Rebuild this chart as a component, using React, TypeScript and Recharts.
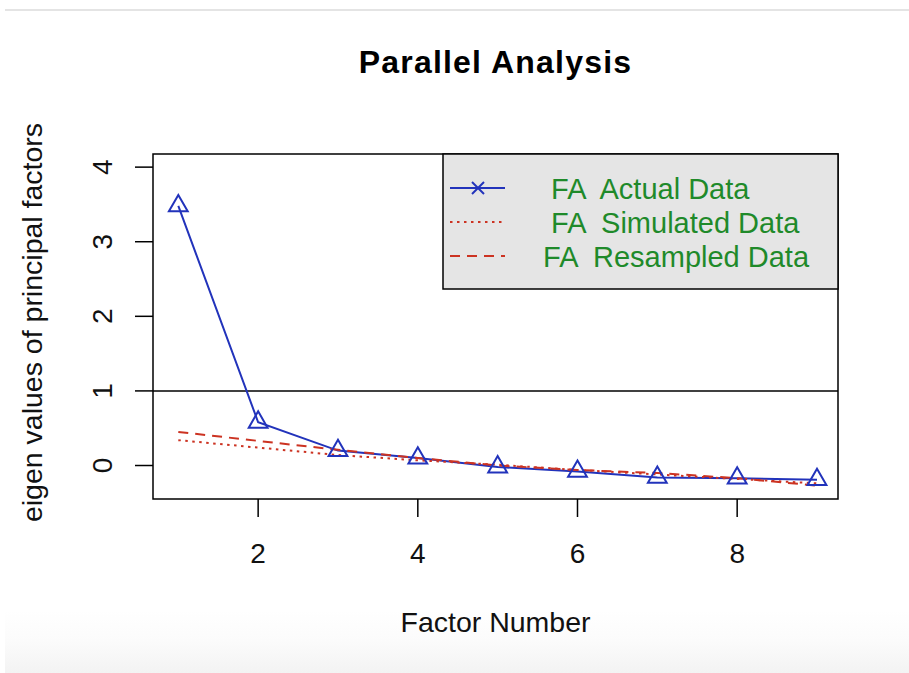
import React from 'react';
import { LineChart, Line, XAxis, YAxis, ReferenceLine, ReferenceArea, Legend } from 'recharts';

// ---- data ----
const factors = [1, 2, 3, 4, 5, 6, 7, 8, 9];
const actualData = [3.48, 0.58, 0.2, 0.1, -0.02, -0.08, -0.16, -0.17, -0.19];
const simulatedData = [0.34, 0.24, 0.14, 0.07, 0.01, -0.06, -0.12, -0.18, -0.24];
const resampledData = [0.45, 0.33, 0.21, 0.1, 0.0, -0.06, -0.1, -0.17, -0.27];
const xTicks = [2, 4, 6, 8];
const yTicks = [0, 1, 2, 3, 4];
const seriesNames = ['  FA  Actual Data', '  FA  Simulated Data', ' FA  Resampled Data'];
const chartTitle = 'Parallel Analysis';
const xTitle = 'Factor Number';
const yTitle = 'eigen values of principal factors';

const data = factors.map((f, i) => ({
  factor: f,
  actual: actualData[i],
  simulated: simulatedData[i],
  resampled: resampledData[i],
}));

const X_DOMAIN: [number, number] = [0.683, 9.263];
const Y_DOMAIN: [number, number] = [-0.449, 4.176];
const FONT = '"Liberation Sans", Arial, Helvetica, sans-serif';
const BLUE = '#2233bb';
const RED = '#cc3322';
const GREEN = '#1f8a2a';

const TriangleDot = (props: any) => {
  const { cx, cy, index } = props;
  if (cx == null || cy == null) return <g key={`tri-${index}`} />;
  const d = `M${cx},${cy - 10.9} L${cx + 9.4},${cy + 5.4} L${cx - 9.4},${cy + 5.4} Z`;
  return <path key={`tri-${index}`} d={d} fill="none" stroke={BLUE} strokeWidth={2} />;
};

const XTick = (props: any) => {
  const { x, y, payload } = props;
  return (
    <text x={x} y={y} dy={20} textAnchor="middle" fontFamily={FONT} fontSize={28} fill="#111">
      {payload.value}
    </text>
  );
};

const YTick = (props: any) => {
  const { x, y, payload } = props;
  return (
    <text
      x={x}
      y={y}
      transform={`rotate(-90 ${x} ${y})`}
      textAnchor="middle"
      fontFamily={FONT}
      fontSize={28}
      fill="#111"
    >
      {payload.value}
    </text>
  );
};

const renderLegend = (props: any) => {
  const payload = props.payload || [];
  return (
    <svg width={395} height={135} style={{ display: 'block', overflow: 'visible' }}>
      <rect x={0} y={0} width={395} height={135} fill="#e5e5e5" stroke="#000" strokeWidth={1.5} />
      {payload.map((entry: any, i: number) => {
        const y = 34 + i * 34;
        const dash = entry?.payload?.strokeDasharray;
        return (
          <g key={`leg-${i}`}>
            <line x1={7} x2={62} y1={y} y2={y} stroke={entry.color} strokeWidth={2} strokeDasharray={dash} />
            {i === 0 && (
              <g stroke={entry.color} strokeWidth={2}>
                <line x1={29} y1={y - 6} x2={41} y2={y + 6} />
                <line x1={29} y1={y + 6} x2={41} y2={y - 6} />
              </g>
            )}
            <text
              x={92}
              y={y + 10.5}
              fontFamily={FONT}
              fontSize={29}
              fill={GREEN}
              style={{ whiteSpace: 'pre' }}
            >
              {entry.value}
            </text>
          </g>
        );
      })}
    </svg>
  );
};

export default function App() {
  return (
    <div style={{ position: 'absolute', left: 0, top: 0, width: 909, height: 673, background: '#fff', overflow: 'hidden' }}>
      <div style={{ position: 'absolute', left: 5, top: 9, width: 904, height: 2, background: '#e4e4e4' }} />
      <div
        style={{
          position: 'absolute',
          left: 5,
          top: 610,
          width: 904,
          height: 63,
          background: 'linear-gradient(#ffffff, #fbfbfb 50%, #f3f3f3)',
        }}
      />
      <div style={{ position: 'absolute', left: 0, top: 0 }}>
        <LineChart width={909} height={673} data={data} margin={{ top: 154, right: 71, bottom: 0, left: 0 }}>
          <XAxis
            dataKey="factor"
            type="number"
            domain={X_DOMAIN}
            ticks={xTicks}
            interval={0}
            allowDataOverflow
            height={174}
            tickSize={18}
            tickMargin={26}
            axisLine={false}
            tickLine={{ stroke: '#000', strokeWidth: 1.5 }}
            tick={<XTick />}
            label={(p: any) => {
              const vb = p.viewBox || { x: 153, y: 499, width: 685 };
              return (
                <text
                  x={vb.x + vb.width / 2}
                  y={vb.y + 133}
                  textAnchor="middle"
                  fontFamily={FONT}
                  fontSize={28.5}
                  fill="#111"
                >
                  {xTitle}
                </text>
              );
            }}
          />
          <YAxis
            type="number"
            domain={Y_DOMAIN}
            ticks={yTicks}
            interval={0}
            allowDataOverflow
            width={153}
            tickSize={18}
            tickMargin={23}
            axisLine={false}
            tickLine={{ stroke: '#000', strokeWidth: 1.5 }}
            tick={<YTick />}
            label={(p: any) => {
              const vb = p.viewBox || { x: 0, y: 154, width: 153, height: 345 };
              const cy = vb.y + vb.height / 2 - 4;
              return (
                <text
                  x={42}
                  y={cy}
                  transform={`rotate(-90 42 ${cy})`}
                  textAnchor="middle"
                  fontFamily={FONT}
                  fontSize={28.5}
                  fill="#111"
                >
                  {yTitle}
                </text>
              );
            }}
          />
          <ReferenceLine y={1} stroke="#000" strokeWidth={1.5} ifOverflow="visible" />
          <Line
            type="linear"
            dataKey="actual"
            name={seriesNames[0]}
            stroke={BLUE}
            strokeWidth={2}
            dot={TriangleDot}
            activeDot={false}
            isAnimationActive={false}
          />
          <Line
            type="linear"
            dataKey="simulated"
            name={seriesNames[1]}
            stroke={RED}
            strokeWidth={2}
            strokeDasharray="2.5 4.5"
            dot={false}
            activeDot={false}
            isAnimationActive={false}
          />
          <Line
            type="linear"
            dataKey="resampled"
            name={seriesNames[2]}
            stroke={RED}
            strokeWidth={2}
            strokeDasharray="10 7"
            dot={false}
            activeDot={false}
            isAnimationActive={false}
          />
          <ReferenceArea
            x1={X_DOMAIN[0]}
            x2={X_DOMAIN[1]}
            y1={Y_DOMAIN[0]}
            y2={Y_DOMAIN[1]}
            fill="none"
            fillOpacity={0}
            stroke="#000"
            strokeWidth={1.5}
            ifOverflow="visible"
          />
          <Legend
            layout="vertical"
            align="center"
            verticalAlign="middle"
            content={renderLegend}
            wrapperStyle={{ top: 154, left: 443, width: 395, height: 135, margin: 0, padding: 0 }}
          />
        </LineChart>
      </div>
      <svg width={909} height={100} style={{ position: 'absolute', left: 0, top: 0, pointerEvents: 'none' }}>
        <text
          x={495.5}
          y={73}
          textAnchor="middle"
          fontFamily={FONT}
          fontSize={32}
          fontWeight="bold"
          letterSpacing={1.2}
          fill="#000"
        >
          {chartTitle}
        </text>
      </svg>
    </div>
  );
}
